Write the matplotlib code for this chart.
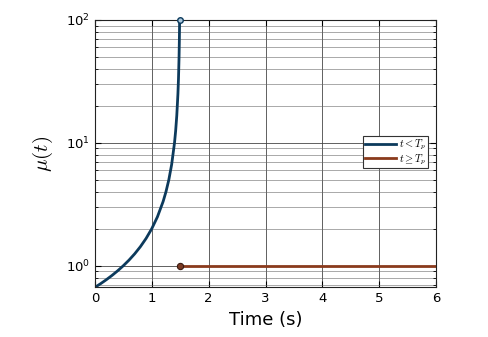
import matplotlib
matplotlib.use("Agg")
import matplotlib.pyplot as plt
from matplotlib.ticker import LogLocator, NullFormatter

plt.rcParams['mathtext.fontset'] = 'cm'

# Data
t_pre = [0.0, 0.1, 0.2, 0.3, 0.4, 0.5, 0.6, 0.7, 0.8, 0.9, 1.0, 1.1, 1.2,
         1.25, 1.3, 1.35, 1.4, 1.42, 1.44, 1.46, 1.47, 1.48, 1.485, 1.49]
mu_pre = [0.667, 0.714, 0.769, 0.833, 0.909, 1.0, 1.111, 1.25, 1.429, 1.667,
          2.0, 2.5, 3.333, 4.0, 5.0, 6.667, 10.0, 12.5, 16.67, 25.0, 33.3,
          50.0, 66.7, 100.0]
t_post = [1.5, 6.0]
mu_post = [1.0, 1.0]
x_ticks = [0, 1, 2, 3, 4, 5, 6]
legend_labels = [r'$t < T_p$', r'$t \geq T_p$']

blue = '#0c3a5c'
brown = '#8a3a1c'

fig = plt.figure(figsize=(4.89, 3.37), dpi=100)
ax = fig.add_axes([0.194, 0.148, 0.698, 0.793])

ax.plot(t_pre, mu_pre, color=blue, lw=2.0, label=legend_labels[0])
ax.plot(t_post, mu_post, color=brown, lw=2.0, label=legend_labels[1])
ax.plot([t_pre[-1]], [mu_pre[-1]], 'o', ms=4, mfc='#a9c6dc', mec=blue, mew=1.0,
        clip_on=False, zorder=5)
ax.plot([t_post[0]], [mu_post[0]], 'o', ms=4.5, mfc='#7a3a24', mec='#3a1a10', mew=0.8,
        clip_on=False, zorder=5)

ax.set_yscale('log')
ax.set_xlim(0, 6)
ax.set_ylim(0.67, 100)
ax.set_xticks(x_ticks)
ax.set_xticklabels([str(v) for v in x_ticks])
ax.yaxis.set_major_locator(LogLocator(base=10, numticks=10))
ax.yaxis.set_minor_locator(LogLocator(base=10, subs=range(2, 10), numticks=20))
ax.yaxis.set_minor_formatter(NullFormatter())

ax.grid(True, which='major', color='#444444', lw=0.7, alpha=0.85)
ax.grid(True, which='minor', axis='y', color='#666666', lw=0.6, alpha=0.65)

ax.tick_params(which='both', direction='in', top=True, right=True, labelsize=9.5)
ax.tick_params(which='major', length=4)
ax.tick_params(which='minor', length=2)
for s in ax.spines.values():
    s.set_color('#222222')
    s.set_linewidth(0.8)

ax.set_xlabel('Time (s)', fontsize=13, labelpad=4)
ax.set_ylabel(r'$\mu(t)$', fontsize=15, labelpad=8)

leg = ax.legend(loc='center right', bbox_to_anchor=(0.975, 0.505), fontsize=7.5,
                frameon=True, fancybox=False, edgecolor='#333333', framealpha=1,
                handlelength=3.0, borderpad=0.15, labelspacing=0.0,
                handletextpad=0.3, borderaxespad=0)
leg.get_frame().set_linewidth(0.8)

fig.savefig('out.png', dpi=100)
